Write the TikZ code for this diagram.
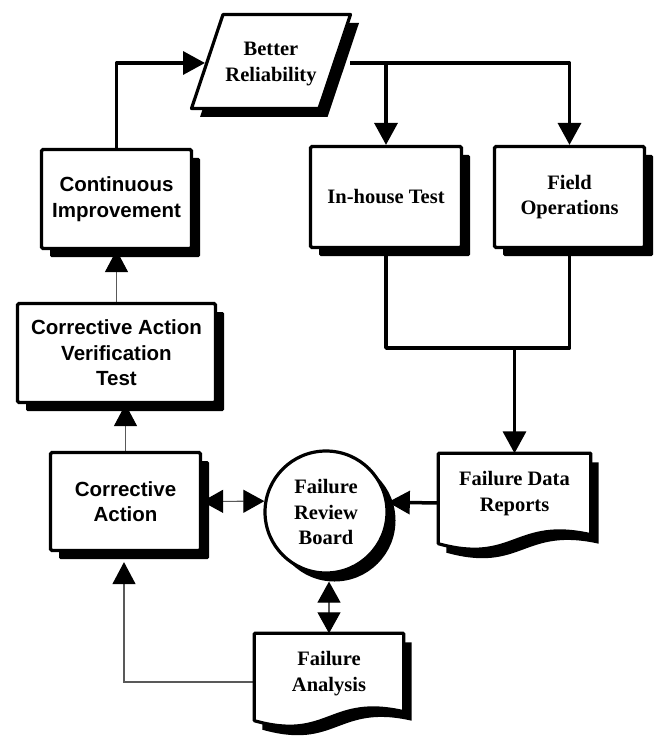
\documentclass[tikz,border=0pt]{standalone}
\usepackage{fontspec}
\setmainfont{Liberation Serif}
\newfontfamily\arialfont{Liberation Sans}
\usetikzlibrary{arrows.meta,shadows,calc}
\pgfdeclarelayer{bg}
\pgfsetlayers{bg,main}
\tikzset{
  shad/.style={drop shadow={shadow xshift=8.5pt,shadow yshift=-8.5pt,fill=black,opacity=1}},
  boxbase/.style={draw, line width=3.2pt, fill=white, rounded corners=1.5pt, inner sep=0pt, align=center, shad},
  serifbox/.style={boxbase, font=\bfseries\fontsize{20.5}{25.5}\selectfont},
  sansbox/.style={boxbase, font=\arialfont\bfseries\fontsize{20.5}{25.5}\selectfont},
  serift/.style={inner sep=0pt, align=center, font=\bfseries\fontsize{20.5}{25.5}\selectfont},
  anchorbox/.style={draw=none, inner sep=0pt},
  tip/.style={-{Triangle[length=22pt,width=23pt,color=black]}},
  tipboth/.style={{Triangle[length=21pt,width=23pt,color=black]}-{Triangle[length=21pt,width=23pt,color=black]}},
  thickline/.style={line width=3.5pt, line join=round, draw=black},
  thinline/.style={line width=1.1pt, draw=black!65}
}
\newcommand\docshape[1]{%
  \fill[black] ([shift={(8pt,-9pt)}]#1.north west) -- ([shift={(8pt,-9pt)}]#1.north east)
    -- ([shift={(8pt,0pt)}]#1.south east)
    .. controls ([shift={(8pt,17pt)}]#1.south) and ([shift={(8pt,-30pt)}]#1.south) ..
    ([shift={(8pt,-9pt)}]#1.south west) -- cycle;
  \draw[line width=3.2pt, fill=white, line join=round] (#1.north west) -- (#1.north east)
    -- ([shift={(0pt,9pt)}]#1.south east)
    .. controls ([shift={(0pt,26pt)}]#1.south) and ([shift={(0pt,-21pt)}]#1.south) ..
    (#1.south west) -- cycle;
}
\begin{document}
\begin{tikzpicture}[x=1pt,y=-1pt]
\useasboundingbox (0,0) rectangle (662,738);

% Better Reliability (parallelogram)
\fill[black] (231.5,23) -- (359,23) -- (327.5,117) -- (200,117) -- cycle;
\draw[line width=3.2pt, fill=white, line join=round] (223,14.5) -- (350.5,14.5) -- (319,108.5) -- (191.5,108.5) -- cycle;
\node[serift] (br) at (271,64) {Better\\Reliability};
\coordinate (brL) at (205,63);
\coordinate (brR) at (350,63);

\node[sansbox, minimum width=150pt, minimum height=99pt] (cont) at (116.5,199) {Continuous\\Improvement};
\node[sansbox, minimum width=198pt, minimum height=99pt] (cavt) at (116.5,353) {Corrective Action\\Verification\\Test};
\node[sansbox, minimum width=150pt, minimum height=98pt] (ca) at (125.5,501.5) {Corrective\\Action};
\node[serifbox, minimum width=151pt, minimum height=101pt] (inh) at (386,197) {In-house Test};
\node[serifbox, minimum width=150pt, minimum height=101pt] (fop) at (569.5,197) {Field\\Operations};
\node[serifbox, circle, minimum size=122pt] (frb) at (326,512) {Failure\\Review\\Board};

\node[anchorbox, minimum width=152pt, minimum height=90pt] (fdr) at (514.5,498.5) {};
\docshape{fdr}
\node[serift] (fdrt) at ([yshift=5pt]fdr.center) {Failure Data\\Reports};

\node[anchorbox, minimum width=149pt, minimum height=87pt] (fa) at (329,677) {};
\docshape{fa}
\node[serift] (fat) at ([yshift=3.5pt]fa.center) {Failure\\Analysis};

\begin{pgfonlayer}{bg}
\draw[thickline, tip] (cont.north) |- (brL);
\draw[thickline, tip] (brR) -| (fop.north);
\draw[thickline, tip] (brR -| inh.north) -- (inh.north);
\coordinate (mj) at (514.5,348);
\draw[thickline] (inh.south) |- (mj) -| (fop.south);
\draw[thickline, tip] (mj) -- (fdr.north);
\draw[thickline, tip] ([yshift=-4.5pt]fdr.west) -- (frb.9);
\draw[thinline, tipboth] (ca.east) -- (frb.170);
\draw[thinline, tipboth] (fa.north) -- ($(fa.north |- frb.south)+(0,7)$);
\draw[thinline, tip] ([yshift=-5pt]fa.west) -| ($(ca.south)+(-1.5,10)$);
\draw[thinline, tip] (ca.north) -- (ca.north |- cavt.south);
\draw[thinline, tip] (cavt.north) -- (cont.south);
\end{pgfonlayer}
\end{tikzpicture}
\end{document}
